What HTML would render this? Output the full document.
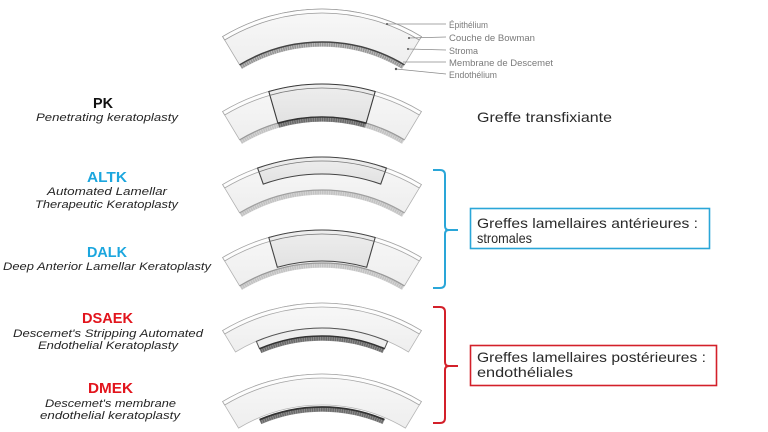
<!DOCTYPE html>
<html>
<head>
<meta charset="utf-8">
<style>
  html, body { margin:0; padding:0; background:#ffffff; }
  body { width:768px; height:432px; overflow:hidden; }
  svg { display:block; }
  .ttl { font-family:"Liberation Sans", sans-serif; font-weight:bold; font-size:15px; }
  .sub { font-family:"Liberation Sans", sans-serif; font-style:italic; font-size:11px; fill:#262626; }
  .small { font-family:"Liberation Sans", sans-serif; font-size:9.5px; fill:#7a7a7a; }
  .right { font-family:"Liberation Sans", sans-serif; font-size:14px; fill:#2a2a2a; }
</style>
</head>
<body>
<svg width="768" height="432" viewBox="0 0 768 432" xmlns="http://www.w3.org/2000/svg">
  <defs>
    <linearGradient id="stroma" x1="0" y1="0" x2="0" y2="1">
      <stop offset="0" stop-color="#f8f8f8"/>
      <stop offset="1" stop-color="#eeeeee"/>
    </linearGradient>
    <linearGradient id="graft" x1="0" y1="0" x2="0" y2="1">
      <stop offset="0" stop-color="#eeeeee"/>
      <stop offset="1" stop-color="#e2e2e2"/>
    </linearGradient>
    <path id="full" d="M222.6,36.56 A193,193 0 0 1 421.4,36.56 L404.4,64.85 A160,160 0 0 0 239.6,64.85 Z"/>
    <path id="epi" d="M222.6,36.56 A193,193 0 0 1 421.4,36.56 L419.34,39.99 A189,189 0 0 0 224.66,39.99 Z"/>
    <path id="desc" d="M239.6,64.85 A160,160 0 0 1 404.4,64.85"/>
    <path id="endo" d="M240.89,66.99 A157.5,157.5 0 0 1 403.11,66.99"/>
    <path id="endoS" d="M260.46,57.02 A157.5,157.5 0 0 1 383.54,57.02"/>
    <path id="descS" d="M259.49,54.72 A160,160 0 0 1 384.51,54.72"/>
  </defs>

  <!-- Row 0 : anatomy -->
  <g>
    <use href="#full" fill="url(#stroma)" stroke="#a9a9a9" stroke-width="0.8"/>
    <use href="#epi" fill="#fdfdfd" stroke="#9a9a9a" stroke-width="0.8"/>
    <use href="#endo" fill="none" stroke="#c8c8c8" stroke-width="4.5"/>
    <use href="#endo" fill="none" stroke="#959595" stroke-width="4" stroke-dasharray="1.6 0.7"/>
    <use href="#desc" fill="none" stroke="#444" stroke-width="1.5"/>
    <g stroke="#8a8a8a" stroke-width="0.8" fill="none">
      <line x1="387" y1="24" x2="446" y2="24"/>
      <line x1="409" y1="38" x2="446" y2="37"/>
      <line x1="408" y1="49" x2="446" y2="50"/>
      <line x1="403" y1="62" x2="446" y2="62"/>
      <line x1="396" y1="69" x2="446" y2="74"/>
    </g>
    <g fill="#555">
      <circle cx="387" cy="24" r="1"/>
      <circle cx="409" cy="38" r="1"/>
      <circle cx="408" cy="49" r="1"/>
      <circle cx="396" cy="69" r="1.2"/>
    </g>
    <text class="small" x="449" y="28" textLength="39" lengthAdjust="spacingAndGlyphs">Épithélium</text>
    <text class="small" x="449" y="41" textLength="86" lengthAdjust="spacingAndGlyphs">Couche de Bowman</text>
    <text class="small" x="449" y="54" textLength="29" lengthAdjust="spacingAndGlyphs">Stroma</text>
    <text class="small" x="449" y="66" textLength="104" lengthAdjust="spacingAndGlyphs">Membrane de Descemet</text>
    <text class="small" x="449" y="78" textLength="48" lengthAdjust="spacingAndGlyphs">Endothélium</text>
  </g>

  <!-- Row 1 : PK -->
  <g transform="translate(0,75)">
    <use href="#full" fill="url(#stroma)" stroke="#b0b0b0" stroke-width="0.8"/>
    <use href="#epi" fill="#fdfdfd" stroke="#a5a5a5" stroke-width="0.8"/>
    <use href="#endo" fill="none" stroke="#dadada" stroke-width="4.5"/>
    <use href="#endo" fill="none" stroke="#c2c2c2" stroke-width="4" stroke-dasharray="1.6 0.7"/>
    <use href="#desc" fill="none" stroke="#9a9a9a" stroke-width="1.2"/>
    <path d="M268.81,16.47 A193,193 0 0 1 375.19,16.47 L366.1,48.19 A160,160 0 0 0 277.9,48.19 Z" fill="url(#graft)" stroke="#3a3a3a" stroke-width="1.1"/>
    <path d="M269.91,20.31 A189,189 0 0 1 374.09,20.31" fill="none" stroke="#777" stroke-width="0.8"/>
    <path d="M278.59,50.6 A157.5,157.5 0 0 1 365.41,50.6" fill="none" stroke="#9a9a9a" stroke-width="4.5"/>
    <path d="M278.59,50.6 A157.5,157.5 0 0 1 365.41,50.6" fill="none" stroke="#6a6a6a" stroke-width="4" stroke-dasharray="1.6 0.7"/>
    <path d="M277.9,48.19 A160,160 0 0 1 366.1,48.19" fill="none" stroke="#333" stroke-width="1.6"/>
  </g>

  <!-- Row 2 : ALTK -->
  <g transform="translate(0,148)">
    <use href="#full" fill="url(#stroma)" stroke="#b0b0b0" stroke-width="0.8"/>
    <use href="#epi" fill="#fdfdfd" stroke="#a5a5a5" stroke-width="0.8"/>
    <use href="#endo" fill="none" stroke="#dadada" stroke-width="4.5"/>
    <use href="#endo" fill="none" stroke="#c2c2c2" stroke-width="4" stroke-dasharray="1.6 0.7"/>
    <use href="#desc" fill="none" stroke="#a0a0a0" stroke-width="1.2"/>
    <path d="M257.58,20.08 A193,193 0 0 1 386.42,20.08 L380.75,36.1 A176,176 0 0 0 263.25,36.1 Z" fill="url(#graft)" stroke="#444" stroke-width="1.1"/>
    <path d="M258.91,23.85 A189,189 0 0 1 385.09,23.85" fill="none" stroke="#777" stroke-width="0.8"/>
  </g>

  <!-- Row 3 : DALK -->
  <g transform="translate(0,221)">
    <use href="#full" fill="url(#stroma)" stroke="#b0b0b0" stroke-width="0.8"/>
    <use href="#epi" fill="#fdfdfd" stroke="#a5a5a5" stroke-width="0.8"/>
    <use href="#endo" fill="none" stroke="#dadada" stroke-width="4.5"/>
    <use href="#endo" fill="none" stroke="#c2c2c2" stroke-width="4" stroke-dasharray="1.6 0.7"/>
    <use href="#desc" fill="none" stroke="#999" stroke-width="1.2"/>
    <path d="M268.81,16.47 A193,193 0 0 1 375.19,16.47 L366.65,46.27 A162,162 0 0 0 277.35,46.27 Z" fill="url(#graft)" stroke="#444" stroke-width="1.1"/>
    <path d="M269.91,20.31 A189,189 0 0 1 374.09,20.31" fill="none" stroke="#777" stroke-width="0.8"/>
  </g>

  <!-- Row 4 : DSAEK -->
  <g transform="translate(0,294)">
    <path d="M222.6,36.56 A193,193 0 0 1 421.4,36.56 L408.52,57.99 A168,168 0 0 0 235.48,57.99 Z" fill="url(#stroma)" stroke="#b5b5b5" stroke-width="0.8"/>
    <use href="#epi" fill="#fdfdfd" stroke="#a5a5a5" stroke-width="0.8"/>
    <path d="M256.36,47.36 A168,168 0 0 1 387.64,47.36 L384.51,54.72 A160,160 0 0 0 259.49,54.72 Z" fill="#eeeeee" stroke="#555" stroke-width="1"/>
    <use href="#endoS" fill="none" stroke="#9a9a9a" stroke-width="4.5"/>
    <use href="#endoS" fill="none" stroke="#6a6a6a" stroke-width="4" stroke-dasharray="1.6 0.7"/>
    <use href="#descS" fill="none" stroke="#333" stroke-width="1.6"/>
  </g>

  <!-- Row 5 : DMEK -->
  <g transform="translate(0,365)">
    <path d="M222.6,36.56 A193,193 0 0 1 421.4,36.56 L405.43,63.13 A162,162 0 0 0 238.57,63.13 Z" fill="url(#stroma)" stroke="#b5b5b5" stroke-width="0.8"/>
    <use href="#epi" fill="#fdfdfd" stroke="#a5a5a5" stroke-width="0.8"/>
    <use href="#endoS" fill="none" stroke="#9a9a9a" stroke-width="4.5"/>
    <use href="#endoS" fill="none" stroke="#6a6a6a" stroke-width="4" stroke-dasharray="1.6 0.7"/>
    <use href="#descS" fill="none" stroke="#333" stroke-width="1.8"/>
  </g>

  <!-- Left labels -->
  <text class="ttl" x="93" y="108" fill="#111" textLength="20" lengthAdjust="spacingAndGlyphs">PK</text>
  <text class="sub" x="36" y="121" textLength="142" lengthAdjust="spacingAndGlyphs">Penetrating keratoplasty</text>

  <text class="ttl" x="87" y="182" fill="#1ba6de" textLength="40" lengthAdjust="spacingAndGlyphs">ALTK</text>
  <text class="sub" x="47" y="195" textLength="120" lengthAdjust="spacingAndGlyphs">Automated Lamellar</text>
  <text class="sub" x="35" y="208" textLength="143" lengthAdjust="spacingAndGlyphs">Therapeutic Keratoplasty</text>

  <text class="ttl" x="87" y="257" fill="#1ba6de" textLength="40" lengthAdjust="spacingAndGlyphs">DALK</text>
  <text class="sub" x="3" y="270" textLength="208" lengthAdjust="spacingAndGlyphs">Deep Anterior Lamellar Keratoplasty</text>

  <text class="ttl" x="82" y="323" fill="#e2141c" textLength="51" lengthAdjust="spacingAndGlyphs">DSAEK</text>
  <text class="sub" x="13" y="337" textLength="190" lengthAdjust="spacingAndGlyphs">Descemet's Stripping Automated</text>
  <text class="sub" x="38" y="349" textLength="140" lengthAdjust="spacingAndGlyphs">Endothelial Keratoplasty</text>

  <text class="ttl" x="88" y="393" fill="#e2141c" textLength="45" lengthAdjust="spacingAndGlyphs">DMEK</text>
  <text class="sub" x="45" y="407" textLength="131" lengthAdjust="spacingAndGlyphs">Descemet's membrane</text>
  <text class="sub" x="40" y="419" textLength="140" lengthAdjust="spacingAndGlyphs">endothelial keratoplasty</text>

  <!-- Right side -->
  <text class="right" x="477" y="122" textLength="135" lengthAdjust="spacingAndGlyphs">Greffe transfixiante</text>

  <!-- Blue bracket -->
  <path d="M433,170 L440,170 Q445,170 445,175 L445,226 Q445,230 449,230 L458,230 M449,230 Q445,230 445,234 L445,283 Q445,288 440,288 L433,288" fill="none" stroke="#2aa6d8" stroke-width="2"/>
  <rect x="470.5" y="208.5" width="239" height="40" fill="#fff" stroke="#2aa6d8" stroke-width="1.6"/>
  <text class="right" x="477" y="228" textLength="221" lengthAdjust="spacingAndGlyphs">Greffes lamellaires antérieures :</text>
  <text class="right" x="477" y="243" textLength="55" lengthAdjust="spacingAndGlyphs">stromales</text>

  <!-- Red bracket -->
  <path d="M433,307 L440,307 Q445,307 445,312 L445,362 Q445,366 449,366 L458,366 M449,366 Q445,366 445,370 L445,418 Q445,423 440,423 L433,423" fill="none" stroke="#d3202a" stroke-width="2"/>
  <rect x="470.5" y="345.5" width="246" height="40" fill="#fff" stroke="#d3202a" stroke-width="1.6"/>
  <text class="right" x="477" y="362" textLength="229" lengthAdjust="spacingAndGlyphs">Greffes lamellaires postérieures :</text>
  <text class="right" x="477" y="377" textLength="96" lengthAdjust="spacingAndGlyphs">endothéliales</text>
</svg>
</body>
</html>
